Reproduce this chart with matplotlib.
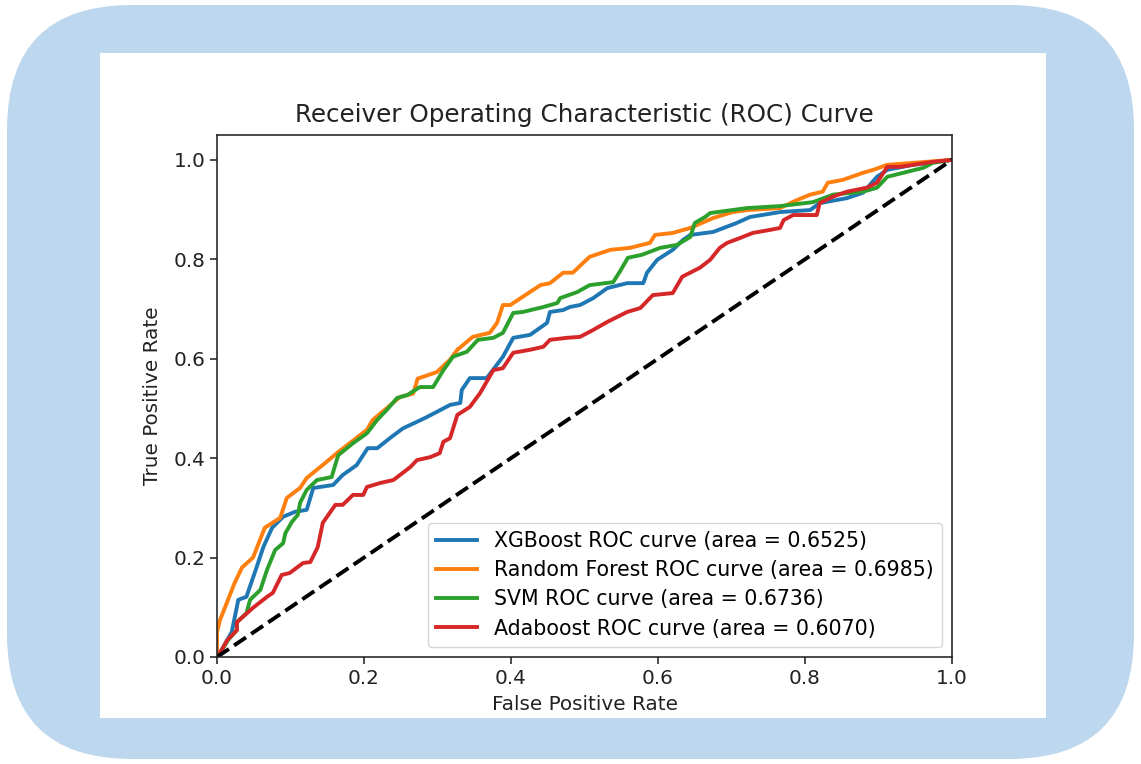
import matplotlib
matplotlib.use("Agg")
import matplotlib.pyplot as plt
from matplotlib.patches import FancyBboxPatch, Rectangle

# ROC points (fpr, tpr)
xgb_fpr = [0.0, 0.004, 0.02, 0.029, 0.04, 0.054, 0.063, 0.075, 0.09, 0.106, 0.122, 0.131, 0.158, 0.171, 0.19,
           0.205, 0.218, 0.235, 0.253, 0.272, 0.286, 0.299, 0.317, 0.331, 0.333, 0.344, 0.367, 0.389, 0.403,
           0.426, 0.449, 0.453, 0.471, 0.48, 0.494, 0.512, 0.531, 0.558, 0.58, 0.585, 0.599, 0.62, 0.634, 0.644,
           0.675, 0.707, 0.725, 0.766, 0.807, 0.82, 0.857, 0.879, 0.898, 0.912, 0.947, 1.0]
xgb_tpr = [0.0, 0.008, 0.05, 0.115, 0.121, 0.181, 0.221, 0.26, 0.282, 0.292, 0.296, 0.34, 0.346, 0.366, 0.386,
           0.42, 0.42, 0.44, 0.46, 0.473, 0.483, 0.493, 0.507, 0.511, 0.537, 0.561, 0.561, 0.604, 0.642,
           0.648, 0.672, 0.694, 0.698, 0.704, 0.708, 0.722, 0.742, 0.752, 0.752, 0.773, 0.799, 0.819, 0.839, 0.849,
           0.855, 0.873, 0.885, 0.895, 0.899, 0.913, 0.923, 0.934, 0.966, 0.98, 0.99, 1.0]

rf_fpr = [0.0, 0.0, 0.004, 0.024, 0.034, 0.049, 0.065, 0.086, 0.095, 0.113, 0.122, 0.147, 0.163, 0.204, 0.212,
          0.249, 0.267, 0.273, 0.299, 0.317, 0.327, 0.348, 0.371, 0.381, 0.389, 0.399, 0.44, 0.453, 0.471, 0.484,
          0.507, 0.535, 0.562, 0.589, 0.596, 0.62, 0.644, 0.675, 0.702, 0.721, 0.766, 0.789, 0.807, 0.824, 0.831,
          0.852, 0.879, 0.893, 0.912, 0.947, 1.0]
rf_tpr = [0.0, 0.05, 0.074, 0.149, 0.18, 0.2, 0.26, 0.28, 0.32, 0.34, 0.36, 0.39, 0.41, 0.457, 0.477,
          0.523, 0.53, 0.56, 0.573, 0.598, 0.618, 0.644, 0.652, 0.672, 0.708, 0.708, 0.748, 0.752, 0.773, 0.773,
          0.805, 0.819, 0.823, 0.833, 0.849, 0.853, 0.863, 0.883, 0.895, 0.899, 0.903, 0.919, 0.93, 0.936, 0.954,
          0.96, 0.974, 0.98, 0.99, 0.994, 1.0]

svm_fpr = [0.0, 0.004, 0.015, 0.027, 0.027, 0.04, 0.045, 0.059, 0.068, 0.079, 0.09, 0.093, 0.102, 0.11, 0.113,
           0.122, 0.136, 0.156, 0.16, 0.165, 0.185, 0.204, 0.218, 0.231, 0.245, 0.259, 0.276, 0.294, 0.308,
           0.321, 0.34, 0.355, 0.376, 0.389, 0.403, 0.416, 0.444, 0.463, 0.467, 0.49, 0.507, 0.539, 0.548, 0.559,
           0.578, 0.603, 0.626, 0.644, 0.65, 0.664, 0.671, 0.721, 0.766, 0.811, 0.838, 0.879, 0.898, 0.912, 0.961,
           0.974, 1.0]
svm_tpr = [0.0, 0.008, 0.034, 0.054, 0.07, 0.088, 0.115, 0.135, 0.175, 0.215, 0.229, 0.249, 0.272, 0.286, 0.31,
           0.336, 0.356, 0.362, 0.382, 0.406, 0.43, 0.45, 0.477, 0.497, 0.521, 0.527, 0.543, 0.543, 0.577,
           0.604, 0.614, 0.638, 0.642, 0.652, 0.692, 0.694, 0.704, 0.712, 0.722, 0.734, 0.748, 0.754, 0.775, 0.803,
           0.809, 0.823, 0.829, 0.845, 0.873, 0.885, 0.893, 0.903, 0.907, 0.915, 0.93, 0.936, 0.944, 0.966, 0.984,
           0.994, 1.0]

ada_fpr = [0.0, 0.004, 0.014, 0.027, 0.027, 0.049, 0.068, 0.076, 0.088, 0.099, 0.117, 0.127, 0.137, 0.144, 0.161,
           0.171, 0.185, 0.199, 0.204, 0.222, 0.24, 0.263, 0.272, 0.29, 0.303, 0.308, 0.317, 0.327, 0.344, 0.358,
           0.376, 0.389, 0.403, 0.426, 0.444, 0.453, 0.476, 0.494, 0.512, 0.531, 0.558, 0.576, 0.593, 0.62, 0.633,
           0.657, 0.671, 0.684, 0.694, 0.712, 0.729, 0.752, 0.766, 0.771, 0.784, 0.816, 0.82, 0.838, 0.857, 0.884,
           0.898, 0.912, 0.929, 0.947, 0.974, 1.0]
ada_tpr = [0.0, 0.008, 0.034, 0.054, 0.07, 0.099, 0.121, 0.129, 0.165, 0.169, 0.189, 0.191, 0.221, 0.27, 0.306,
           0.306, 0.326, 0.326, 0.342, 0.35, 0.356, 0.382, 0.396, 0.402, 0.41, 0.433, 0.44, 0.487, 0.503, 0.531,
           0.577, 0.581, 0.612, 0.618, 0.624, 0.638, 0.642, 0.644, 0.658, 0.674, 0.694, 0.702, 0.728, 0.732, 0.765,
           0.783, 0.799, 0.823, 0.833, 0.843, 0.853, 0.859, 0.863, 0.879, 0.889, 0.889, 0.913, 0.926, 0.936, 0.944,
           0.954, 0.986, 0.986, 0.99, 0.996, 1.0]

models = ["XGBoost", "Random Forest", "SVM", "Adaboost"]
aucs = [0.6525, 0.6985, 0.6736, 0.6070]
colors = ["#1f77b4", "#ff7f0e", "#2ca02c", "#d62728"]

fig = plt.figure(figsize=(11.41, 7.64), dpi=100)

# rounded light-blue frame + white card behind the chart
frame = FancyBboxPatch((0.07, 0.05), 11.41 - 0.14, 7.64 - 0.10,
                       boxstyle="round,pad=0,rounding_size=1.25",
                       transform=fig.dpi_scale_trans, facecolor="#bdd7ee",
                       edgecolor="none", zorder=-2)
fig.patches.append(frame)
card = Rectangle((100 / 1141, 1 - 718 / 764), 946 / 1141, 665 / 764,
                 transform=fig.transFigure, facecolor="white", edgecolor="none", zorder=-1)
fig.patches.append(card)

ax = fig.add_axes([217 / 1141, 1 - 657 / 764, 735 / 1141, 522 / 764])
ax.set_facecolor("white")

fs = 14.4
curves = [(xgb_fpr, xgb_tpr), (rf_fpr, rf_tpr), (svm_fpr, svm_tpr), (ada_fpr, ada_tpr)]
for (fpr, tpr), name, auc, c in zip(curves, models, aucs, colors):
    ax.plot(fpr, tpr, color=c, lw=2.8, label=f"{name} ROC curve (area = {auc:.4f})")
ax.plot([0, 1], [0, 1], color="black", lw=2.8, linestyle="--")

ax.set_xlim(0.0, 1.0)
ax.set_ylim(0.0, 1.05)
ax.set_xticks([0.0, 0.2, 0.4, 0.6, 0.8, 1.0])
ax.set_yticks([0.0, 0.2, 0.4, 0.6, 0.8, 1.0])
ax.tick_params(labelsize=fs, length=5, width=1.15, colors="#222222")
for s in ax.spines.values():
    s.set_linewidth(1.15)
    s.set_color("#222222")
ax.set_xlabel("False Positive Rate", fontsize=fs, color="#222222", labelpad=5)
ax.set_ylabel("True Positive Rate", fontsize=fs, color="#222222", labelpad=8)
ax.set_title("Receiver Operating Characteristic (ROC) Curve", fontsize=17.7, color="#222222", pad=9)
ax.legend(loc="lower right", prop={"size": 14.8}, handlelength=2.0, borderaxespad=0.5,
          labelspacing=0.45)

fig.savefig("out.png", dpi=100, facecolor="white")
